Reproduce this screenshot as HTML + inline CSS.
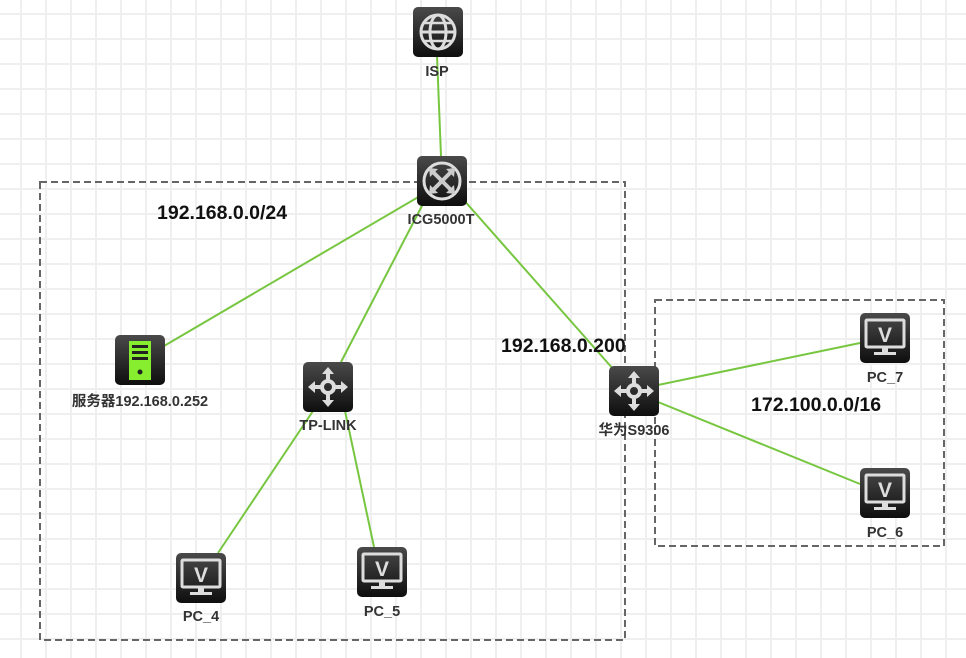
<!DOCTYPE html>
<html><head><meta charset="utf-8"><style>
html,body{margin:0;padding:0;background:#fff;}
svg{display:block;}
text{font-family:"Liberation Sans","Noto Sans CJK SC",sans-serif;font-weight:bold;}
</style></head><body>
<svg width="966" height="658" xmlns="http://www.w3.org/2000/svg">
<defs>
<pattern id="grid" x="20" y="13" width="25" height="25" patternUnits="userSpaceOnUse">
<rect x="0" y="0" width="2" height="25" fill="#efefef"/><rect x="0" y="0" width="25" height="2" fill="#efefef"/>
</pattern>
<linearGradient id="g" x1="0" y1="0" x2="0" y2="1"><stop offset="0" stop-color="#4a4a4a"/><stop offset="1" stop-color="#0e0e0e"/></linearGradient>
<g id="box"><rect x="0" y="0" width="50" height="50" rx="5" fill="url(#g)"/></g>
<g id="pc"><use href="#box"/><rect x="6" y="7" width="38" height="27" rx="1" fill="none" stroke="#ddd" stroke-width="3"/><text x="25" y="29" text-anchor="middle" font-size="21" fill="#ddd">V</text><rect x="22" y="34" width="6" height="5" fill="#ddd"/><rect x="14" y="39" width="22" height="3" fill="#ddd"/></g>
<g id="l3"><use href="#box"/><g stroke="#ddd" stroke-width="4" fill="none"><circle cx="25" cy="25" r="6"/><line x1="25" y1="8" x2="25" y2="18"/><line x1="25" y1="32" x2="25" y2="42"/><line x1="8" y1="25" x2="18" y2="25"/><line x1="32" y1="25" x2="42" y2="25"/></g><g fill="#ddd"><polygon points="25,5 19,12 31,12"/><polygon points="25,45 19,38 31,38"/><polygon points="5,25 12,19 12,31"/><polygon points="45,25 38,19 38,31"/></g></g>
</defs>
<rect width="966" height="658" fill="#fff"/>
<rect width="966" height="658" fill="url(#grid)"/>
<g fill="none" stroke="#666" stroke-width="2" stroke-dasharray="7,4">
<rect x="40" y="182" width="585" height="458"/>
<rect x="655" y="300" width="289" height="246"/>
</g>
<g stroke="#77c640" stroke-width="2">
<line x1="437" y1="56" x2="441" y2="156"/>
<line x1="420" y1="196" x2="164" y2="346"/>
<line x1="425" y1="200" x2="341" y2="362"/>
<line x1="462" y1="198" x2="614" y2="370"/>
<line x1="658" y1="385" x2="860" y2="343"/>
<line x1="658" y1="402" x2="860" y2="484"/>
<line x1="313" y1="411" x2="218" y2="553"/>
<line x1="345" y1="411" x2="374" y2="547"/>
</g>
<g transform="translate(413,7)"><use href="#box"/><g fill="none" stroke="#ddd" stroke-width="3"><circle cx="25" cy="25" r="17"/><ellipse cx="25" cy="25" rx="8" ry="17"/><line x1="8" y1="25" x2="42" y2="25"/><path d="M11,16 H39 M11,34 H39" stroke-width="2.5"/></g></g>
<g transform="translate(417,156)"><use href="#box"/><circle cx="25" cy="25" r="18" fill="none" stroke="#ddd" stroke-width="3"/><g stroke="#ccc" stroke-width="4"><line x1="15" y1="15" x2="35" y2="35"/><line x1="35" y1="15" x2="15" y2="35"/></g><g fill="#ccc"><polygon points="12,12 21,13 13,21"/><polygon points="38,38 29,37 37,29"/><polygon points="38,12 37,21 29,13"/><polygon points="12,38 13,29 21,37"/></g></g>
<g transform="translate(115,335)"><use href="#box"/><rect x="14" y="6" width="22" height="39" fill="#86ee2e"/><rect x="17" y="10" width="16" height="3" fill="#222"/><rect x="17" y="16" width="16" height="3" fill="#222"/><rect x="17" y="22" width="16" height="3" fill="#222"/><circle cx="25" cy="37" r="2.5" fill="#222"/></g>
<use href="#l3" x="303" y="362"/>
<use href="#l3" x="609" y="366"/>
<use href="#pc" x="860" y="313"/>
<use href="#pc" x="860" y="468"/>
<use href="#pc" x="176" y="553"/>
<use href="#pc" x="357" y="547"/>
<g font-size="14.5" fill="#333" text-anchor="middle">
<text x="437" y="76">ISP</text>
<text x="441" y="224">ICG5000T</text>
<text x="140" y="406">服务器192.168.0.252</text>
<text x="328" y="430">TP-LINK</text>
<text x="634" y="435">华为S9306</text>
<text x="885" y="382">PC_7</text>
<text x="885" y="537">PC_6</text>
<text x="201" y="621">PC_4</text>
<text x="382" y="616">PC_5</text>
</g>
<g font-size="19.5" fill="#111">
<text x="157" y="219">192.168.0.0/24</text>
<text x="501" y="352">192.168.0.200</text>
<text x="751" y="411">172.100.0.0/16</text>
</g>
</svg>
</body></html>
